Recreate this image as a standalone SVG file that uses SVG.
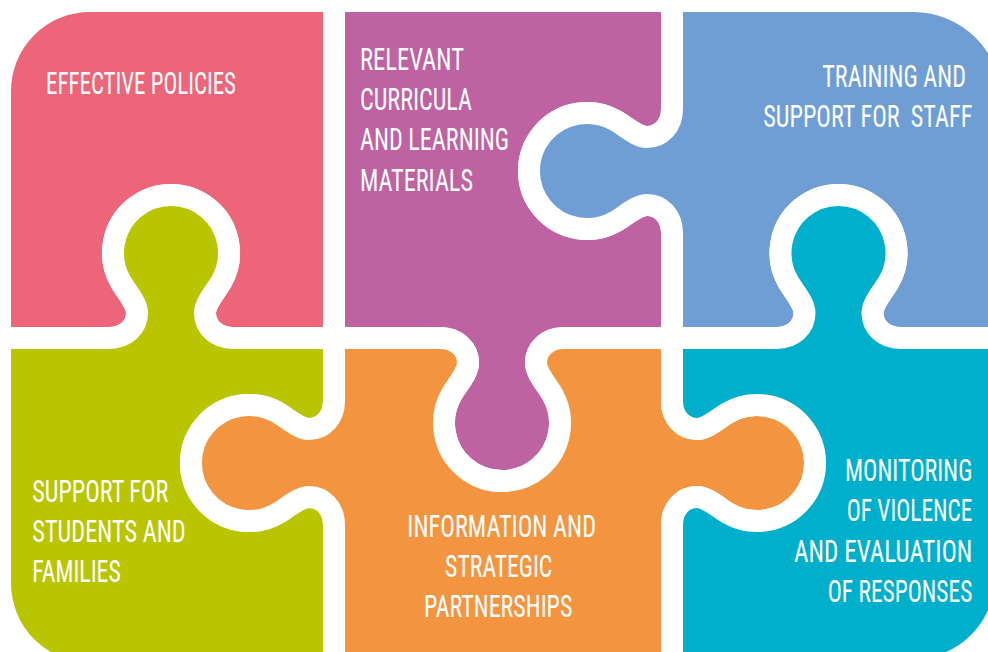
<svg xmlns="http://www.w3.org/2000/svg" width="988" height="652" viewBox="0 0 988 652">
<style>
.piece{stroke:#ffffff;stroke-width:22;stroke-linejoin:round}
.label{fill:#ffffff;font-family:'Liberation Sans Narrow','Roboto','Liberation Sans',sans-serif;font-size:32px;font-stretch:condensed}
.end{text-anchor:end}
.mid{text-anchor:middle}
</style>
<rect width="988" height="652" fill="#ffffff"/>
<g id="effective-policies">
<path class="piece" fill="#EC6579" d="M 0 91 A 90 90 0 0 1 90 1 H 334 V 338 H 233 C 216.2 338 205 326.8 205 313 C 205 303 216.2 290.7 221.2 282 A 58 58 0 1 0 120.8 282 C 125.8 290.7 137 303 137 313 C 137 326.8 125.8 338 109 338 H 0 Z"/>
<text class="label" x="46" y="94.3" textLength="190" lengthAdjust="spacingAndGlyphs">EFFECTIVE POLICIES</text>
</g>
<g id="relevant-curricula">
<path class="piece" fill="#BE62A2" d="M 334 1 H 672 V 109 C 672 125.8 660.8 137 647 137 C 637 137 624.7 125.8 616 120.8 A 58 58 0 1 0 616 221.2 C 624.7 216.2 637 205 647 205 C 660.8 205 672 216.2 672 233 V 338 H 564 C 547.2 338 536 349.2 536 363 C 536 373 547.2 385.3 552.2 394 A 58 58 0 1 1 451.8 394 C 456.8 385.3 468 373 468 363 C 468 349.2 456.8 338 440 338 H 334 Z"/>
<text class="label" x="360" y="70" textLength="104" lengthAdjust="spacingAndGlyphs">RELEVANT</text>
<text class="label" x="360" y="110" textLength="112" lengthAdjust="spacingAndGlyphs">CURRICULA</text>
<text class="label" x="360" y="150" textLength="149" lengthAdjust="spacingAndGlyphs">AND LEARNING</text>
<text class="label" x="360" y="190.7" textLength="113" lengthAdjust="spacingAndGlyphs">MATERIALS</text>
</g>
<g id="training-support">
<path class="piece" fill="#6F9ED4" d="M 672 1 H 913 A 100 100 0 0 1 1013 101 V 338 H 900.5 C 883.7 338 872.5 326.8 872.5 313 C 872.5 303 883.7 290.7 888.7 282 A 58 58 0 1 0 788.3 282 C 793.3 290.7 804.5 303 804.5 313 C 804.5 326.8 793.3 338 776.5 338 H 672 V 233 C 672 216.2 660.8 205 647 205 C 637 205 624.7 216.2 616 221.2 A 58 58 0 1 1 616 120.8 C 624.7 125.8 637 137 647 137 C 660.8 137 672 125.8 672 109 Z"/>
<text class="label end" x="966" y="86.7" textLength="143.7" lengthAdjust="spacingAndGlyphs">TRAINING AND</text>
<text class="label end" x="972.3" y="127.3" textLength="209" lengthAdjust="spacingAndGlyphs" xml:space="preserve">SUPPORT FOR  STAFF</text>
</g>
<g id="support-students">
<path class="piece" fill="#B9C500" d="M 0 338 H 109 C 125.8 338 137 326.8 137 313 C 137 303 125.8 290.7 120.8 282 A 58 58 0 1 1 221.2 282 C 216.2 290.7 205 303 205 313 C 205 326.8 216.2 338 233 338 H 334 V 401 C 334 417.8 322.8 429 309 429 C 299 429 286.7 417.8 278 412.8 A 58 58 0 1 0 278 513.2 C 286.7 508.2 299 497 309 497 C 322.8 497 334 508.2 334 525 V 674 H 91 A 91 91 0 0 1 0 583 Z"/>
<text class="label" x="32.3" y="501.7" textLength="136" lengthAdjust="spacingAndGlyphs">SUPPORT FOR</text>
<text class="label" x="32.3" y="541.7" textLength="153.4" lengthAdjust="spacingAndGlyphs">STUDENTS AND</text>
<text class="label" x="32.3" y="581.7" textLength="88.4" lengthAdjust="spacingAndGlyphs">FAMILIES</text>
</g>
<g id="information-partnerships">
<path class="piece" fill="#F39540" d="M 334 338 H 440 C 456.8 338 468 349.2 468 363 C 468 373 456.8 385.3 451.8 394 A 58 58 0 1 0 552.2 394 C 547.2 385.3 536 373 536 363 C 536 349.2 547.2 338 564 338 H 672 V 401 C 672 417.8 683.2 429 697 429 C 707 429 719.3 417.8 728 412.8 A 58 58 0 1 1 728 513.2 C 719.3 508.2 707 497 697 497 C 683.2 497 672 508.2 672 525 V 672 H 334 V 525 C 334 508.2 322.8 497 309 497 C 299 497 286.7 508.2 278 513.2 A 58 58 0 1 1 278 412.8 C 286.7 417.8 299 429 309 429 C 322.8 429 334 417.8 334 401 Z"/>
<text class="label mid" x="501.7" y="536.7" textLength="188.7" lengthAdjust="spacingAndGlyphs">INFORMATION AND</text>
<text class="label mid" x="498.7" y="577.3" textLength="107.3" lengthAdjust="spacingAndGlyphs">STRATEGIC</text>
<text class="label mid" x="498.2" y="617.3" textLength="148.3" lengthAdjust="spacingAndGlyphs">PARTNERSHIPS</text>
</g>
<g id="monitoring-evaluation">
<path class="piece" fill="#00AFCB" d="M 672 338 H 776.5 C 793.3 338 804.5 326.8 804.5 313 C 804.5 303 793.3 290.7 788.3 282 A 58 58 0 1 1 888.7 282 C 883.7 290.7 872.5 303 872.5 313 C 872.5 326.8 883.7 338 900.5 338 H 1006 V 577 A 93 93 0 0 1 913 670 H 672 V 525 C 672 508.2 683.2 497 697 497 C 707 497 719.3 508.2 728 513.2 A 58 58 0 1 0 728 412.8 C 719.3 417.8 707 429 697 429 C 683.2 429 672 417.8 672 401 Z"/>
<text class="label end" x="972.3" y="481" textLength="127.3" lengthAdjust="spacingAndGlyphs">MONITORING</text>
<text class="label end" x="972.3" y="521" textLength="125.6" lengthAdjust="spacingAndGlyphs">OF VIOLENCE</text>
<text class="label end" x="972.3" y="561.7" textLength="178.3" lengthAdjust="spacingAndGlyphs">AND EVALUATION</text>
<text class="label end" x="972.3" y="601.7" textLength="144.6" lengthAdjust="spacingAndGlyphs">OF RESPONSES</text>
</g>
</svg>
